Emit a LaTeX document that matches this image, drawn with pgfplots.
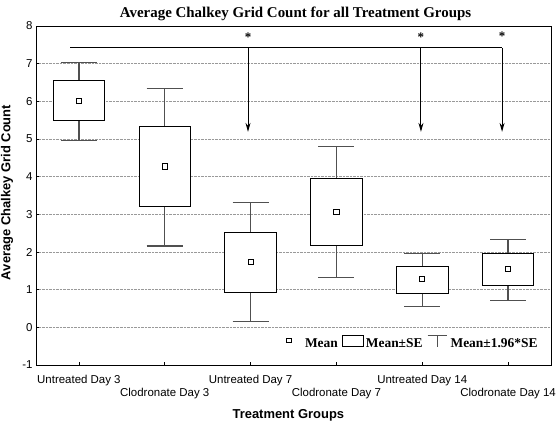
\documentclass[border=0pt]{standalone}
\usepackage{fontspec}
\setmainfont{Liberation Sans}
\newfontfamily\serif{Liberation Serif}
\usepackage{pgfplots}
\pgfplotsset{compat=1.18}
\usepgfplotslibrary{statistics}
\usetikzlibrary{arrows.meta}
\definecolor{whisk}{HTML}{505050}
\begin{document}
\begin{tikzpicture}
\begin{axis}[
  name=ax, at={(0,0)}, anchor=south west,
  scale only axis, width=515bp, height=339bp,
  xmin=-0.5, xmax=5.5, ymin=-1, ymax=8,
  ytick={-1,0,...,8},
  xtick={0,...,5},
  xticklabels={Untreated Day 3,\raisebox{-13bp}{Clodronate Day 3},Untreated Day 7,\raisebox{-13bp}{Clodronate Day 7},Untreated Day 14,\raisebox{-13bp}{Clodronate Day 14}},
  xticklabel style={anchor=base, yshift=-18bp},
  tick align=inside, major tick length=3bp, tick pos=left,
  ymajorgrids, grid style={densely dotted, gray!80, line width=0.6bp},
  axis line style={line width=1bp},
  tick style={black, line width=0.8bp},
  tick label style={font=\fontsize{11.5}{12}\selectfont},
  /pgf/number format/assume math mode=true,
  title={\serif\bfseries Average Chalkey Grid Count for all Treatment Groups},
  title style={font=\fontsize{15}{16}\selectfont, at={(axis description cs:0.504,1)}, anchor=base, yshift=3bp},
  xlabel={\bfseries Treatment Groups},
  xlabel style={font=\fontsize{13}{14}\selectfont, at={(axis description cs:0.490,0)}, anchor=base, yshift=-53bp},
  ylabel={\bfseries Average Chalkey Grid Count},
  ylabel style={font=\fontsize{13}{14}\selectfont, at={(axis description cs:-0.0563,0.509)}, anchor=center},
  legend columns=3,
  legend style={draw=none, fill=none, font=\serif\bfseries\fontsize{13.5}{14}\selectfont,
    at={(axis description cs:0.982,0.065)}, anchor=east,
    nodes={inner xsep=1bp},
    /tikz/every even column/.append style={column sep=0bp}},
  boxplot/draw direction=y,
  boxplot/draw/median/.code={},
  boxplot/every whisker/.style={whisk, line width=1.2bp},
  boxplot/every box/.style={black, line width=1bp, fill=white},
]
\addplot[forget plot, boxplot prepared={draw position=0, median=6.0, lower quartile=5.48, upper quartile=6.54, lower whisker=4.97, upper whisker=7.04, box extend=0.6, whisker extend=0.42}] coordinates {};
\addplot[forget plot, boxplot prepared={draw position=1, median=4.27, lower quartile=3.20, upper quartile=5.33, lower whisker=2.16, upper whisker=6.35, box extend=0.6, whisker extend=0.42}] coordinates {};
\addplot[forget plot, boxplot prepared={draw position=2, median=1.73, lower quartile=0.92, upper quartile=2.52, lower whisker=0.15, upper whisker=3.31, box extend=0.6, whisker extend=0.42}] coordinates {};
\addplot[forget plot, boxplot prepared={draw position=3, median=3.07, lower quartile=2.16, upper quartile=3.96, lower whisker=1.32, upper whisker=4.81, box extend=0.6, whisker extend=0.42}] coordinates {};
\addplot[forget plot, boxplot prepared={draw position=4, median=1.28, lower quartile=0.90, upper quartile=1.61, lower whisker=0.56, upper whisker=1.95, box extend=0.6, whisker extend=0.42}] coordinates {};
\addplot[forget plot, boxplot prepared={draw position=5, median=1.55, lower quartile=1.12, upper quartile=1.95, lower whisker=0.71, upper whisker=2.33, box extend=0.6, whisker extend=0.42}] coordinates {};
\addplot[forget plot, only marks, mark=square*, mark size=2.6bp, mark options={fill=white, draw=black, line width=0.9bp}]
  coordinates {(0,6.0) (1,4.27) (2,1.73) (3,3.07) (4,1.28) (5,1.55)};
\addlegendimage{legend image code/.code={\draw[black, line width=0.9bp, fill=white] (-2.2bp,0.8bp) rectangle (2.2bp,5.2bp); \path[draw=none] (-2.2bp,0) -- (15bp,0);}}
\addlegendentry{Mean}
\addlegendimage{legend image code/.code={\draw[black, line width=0.9bp] (4bp,-2.5bp) rectangle (25bp,8bp); \path[draw=none] (0,0) -- (26bp,0);}}
\addlegendentry{Mean±SE}
\addlegendimage{legend image code/.code={\draw[whisk, line width=1.1bp] (4bp,8bp) -- (23bp,8bp) (13.5bp,8bp) -- (13.5bp,-3bp); \path[draw=none] (0,0) -- (26bp,0);}}
\addlegendentry{Mean±1.96*SE}
% significance annotations
\draw[line width=1bp] (axis cs:-0.1,7.42) -- (axis cs:4.93,7.42);
\draw[line width=1bp, -{Stealth[length=9bp,width=5bp]}] (axis cs:1.97,7.42) -- (axis cs:1.97,5.19);
\draw[line width=1bp, -{Stealth[length=9bp,width=5bp]}] (axis cs:3.985,7.42) -- (axis cs:3.985,5.19);
\draw[line width=1bp, -{Stealth[length=9bp,width=5bp]}] (axis cs:4.93,7.42) -- (axis cs:4.93,5.19);
\node[font=\serif\bfseries\fontsize{13}{13}\selectfont] at (axis cs:1.97,7.70) {*};
\node[font=\serif\bfseries\fontsize{13}{13}\selectfont] at (axis cs:3.985,7.70) {*};
\node[font=\serif\bfseries\fontsize{13}{13}\selectfont] at (axis cs:4.93,7.72) {*};
\node[font=\bfseries\fontsize{11}{11}\selectfont] at (axis description cs:-0.0592,1.056) {i};
\end{axis}
\pgfresetboundingbox
\path[use as bounding box] (-36bp,-59bp) rectangle (521bp,365bp);
\end{tikzpicture}
\end{document}
